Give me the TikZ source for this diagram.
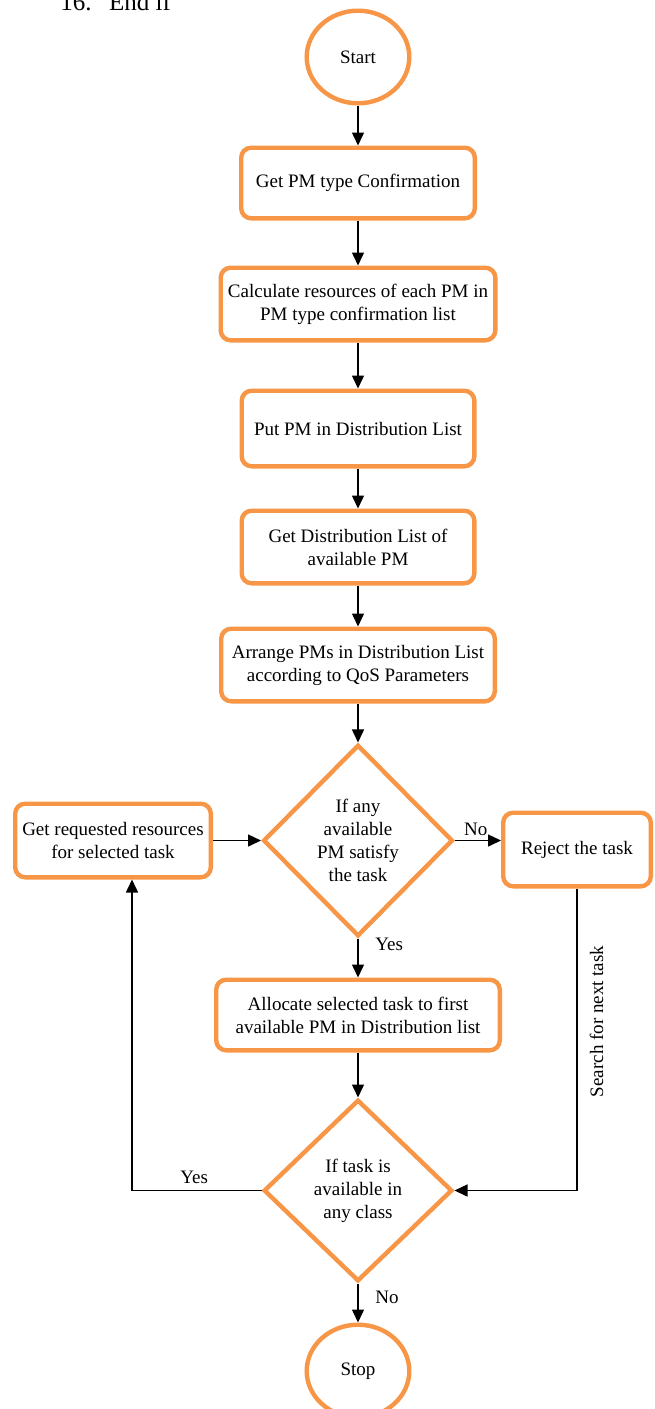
\documentclass[tikz,border=0pt]{standalone}
\usepackage{fontspec}
\setmainfont{Liberation Serif}
\usetikzlibrary{positioning}
\usetikzlibrary{shapes.geometric,arrows.meta}
\definecolor{flowOrange}{RGB}{247,150,70}

\begin{document}
\begin{tikzpicture}[x=0.5pt,y=-0.5pt,
  font=\fontsize{9.5}{11.5}\selectfont,
  term/.style={ellipse, draw=flowOrange, line width=2.2pt, minimum width=51.3pt, minimum height=46.3pt, inner sep=0pt},
  proc/.style={rectangle, rounded corners=5pt, draw=flowOrange, line width=2.2pt, align=center, minimum height=36.3pt, inner sep=2pt},
  decide/.style={diamond, draw=flowOrange, line width=2.2pt, align=center, inner sep=0pt},
  flow/.style={-{Triangle[length=6.5pt,width=6pt]}, line width=0.75pt},
  plain/.style={line width=0.75pt}]
\useasboundingbox (0,0) rectangle (654,1409);
\clip (0,0) rectangle (654,1409);
\node[anchor=base west, inner sep=0pt, font=\fontsize{12.5}{14}\selectfont] (endif) at (60,10) {16.\hspace{0.7em}End if};
\node[term] (start) at (358,57) {Start};
\node[proc, minimum width=116.8pt, minimum height=35.3pt, below=20pt of start] (pmtype) {Get PM type Confirmation};
\node[proc, minimum width=137.3pt, below=22.5pt of pmtype] (calc) {Calculate resources of each PM in\\PM type confirmation list};
\node[proc, minimum width=116.3pt, minimum height=37.8pt, below=23pt of calc] (putpm) {Put PM in Distribution List};
\node[proc, minimum width=116.3pt, below=20pt of putpm] (getlist) {Get Distribution List of\\available PM};
\node[proc, minimum width=136.8pt, below=20.5pt of getlist] (arrange) {Arrange PMs in Distribution List\\according to QoS Parameters};
\node[decide, minimum width=94.8pt, minimum height=95.8pt, below=19.5pt of arrange] (anypm) {If any\\available\\PM satisfy\\the task};
\node[proc, minimum width=97.8pt, minimum height=36.8pt, left=24pt of anypm] (reqres) {Get requested resources\\for selected task};
\node[proc, minimum width=73.8pt, minimum height=36.8pt, right=23pt of anypm, yshift=-4.5pt] (reject) {Reject the task};
\node[proc, minimum width=141.8pt, minimum height=35.3pt, below=19.5pt of anypm] (alloc) {Allocate selected task to first\\available PM in Distribution list};
\node[decide, minimum width=94.3pt, minimum height=90.8pt, below=22.5pt of alloc] (taskavail) {If task is\\available in\\any class};
\node[term, below=19.5pt of taskavail] (stop) {Stop};
% main column
\draw[flow] (start) -- (pmtype);
\draw[flow] (pmtype) -- (calc);
\draw[flow] (calc) -- (putpm);
\draw[flow] (putpm) -- (getlist);
\draw[flow] (getlist) -- (arrange);
\draw[flow] (arrange) -- (anypm);
\draw[flow] (anypm) -- (alloc) node[pos=0.14, anchor=west, xshift=5pt] {Yes};
\draw[flow] (alloc) -- (taskavail);
\draw[flow] (taskavail) -- (stop) node[pos=0.36, anchor=west, xshift=5pt] {No};
% side branches
\draw[flow] (reqres.east) -- (anypm.west);
\draw[flow] (anypm.east) -- (anypm.east -| reject.west) node[pos=0.45, above, inner sep=2pt] {No};
\draw[flow] (reject.south) |- (taskavail.east) node[pos=0.22, rotate=90, anchor=north, inner sep=6pt] {Search for next task};
\draw[flow] (taskavail.west) -| ([xshift=9.5pt]reqres.south) node[pos=0.26, above, inner sep=3pt] {Yes};
\end{tikzpicture}
\end{document}
